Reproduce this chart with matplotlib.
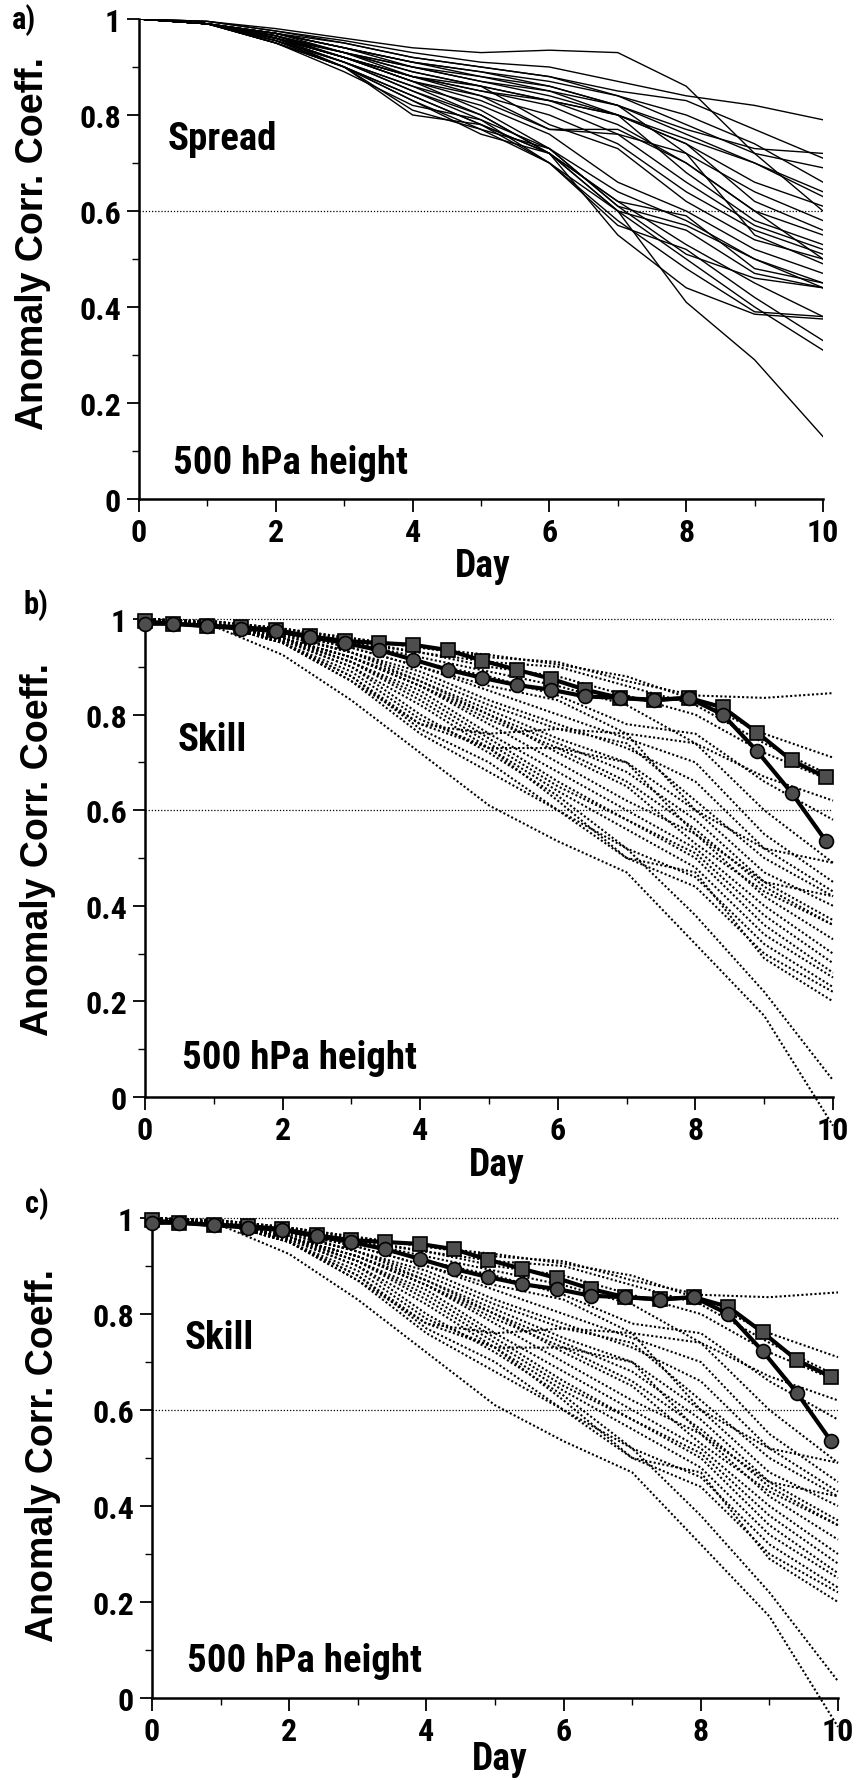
import matplotlib
matplotlib.use("Agg")
import matplotlib.pyplot as plt
from matplotlib.ticker import MultipleLocator, FuncFormatter

# -----------------------------
# DATA
# -----------------------------
days = [0, 1, 2, 3, 4, 5, 6, 7, 8, 9, 10]

# panel a: spread of the ensemble members (solid thin lines)
spread_members = [
    [1, .995, .98, .96, .94, .93, .935, .93, .86, .72, .60],
    [1, .995, .975, .955, .93, .91, .90, .87, .84, .82, .79],
    [1, .995, .975, .95, .92, .90, .88, .85, .83, .77, .71],
    [1, .99, .97, .94, .91, .89, .87, .84, .78, .72, .69],
    [1, .99, .97, .95, .92, .90, .88, .84, .80, .74, .66],
    [1, .99, .97, .94, .91, .88, .86, .82, .76, .70, .63],
    [1, .99, .97, .94, .90, .87, .85, .80, .74, .66, .61],
    [1, .99, .97, .93, .90, .88, .85, .82, .72, .64, .58],
    [1, .99, .965, .93, .89, .86, .83, .78, .70, .60, .55],
    [1, .99, .965, .93, .89, .86, .83, .80, .68, .58, .53],
    [1, .99, .96, .92, .88, .85, .82, .76, .66, .57, .52],
    [1, .99, .96, .92, .87, .84, .80, .74, .64, .56, .51],
    [1, .99, .96, .93, .88, .86, .78, .73, .62, .54, .50],
    [1, .99, .965, .92, .88, .84, .77, .77, .70, .60, .50],
    [1, .99, .96, .92, .87, .83, .77, .76, .72, .55, .49],
    [1, .99, .96, .91, .86, .82, .76, .66, .60, .52, .47],
    [1, .99, .96, .92, .87, .81, .73, .64, .58, .50, .45],
    [1, .99, .96, .91, .86, .80, .72, .62, .59, .48, .45],
    [1, .99, .955, .91, .85, .79, .73, .61, .57, .50, .44],
    [1, .99, .955, .90, .84, .78, .72, .60, .56, .47, .44],
    [1, .99, .96, .90, .81, .77, .73, .61, .51, .46, .44],
    [1, .99, .95, .90, .80, .78, .72, .62, .53, .45, .38],
    [1, .99, .95, .89, .82, .79, .70, .58, .48, .39, .38],
    [1, .99, .955, .91, .85, .80, .72, .55, .44, .385, .375],
    [1, .99, .95, .90, .84, .78, .70, .57, .52, .42, .33],
    [1, .99, .955, .90, .83, .77, .70, .60, .50, .40, .31],
    [1, .99, .95, .90, .83, .76, .72, .60, .41, .29, .13],
    [1, .99, .965, .93, .90, .87, .84, .80, .75, .70, .64],
    [1, .99, .97, .94, .91, .89, .86, .82, .77, .73, .72],
    [1, .99, .965, .92, .88, .85, .83, .80, .74, .62, .56],
]

# panels b/c: skill of the ensemble members (dotted lines)
skill_members = [
    [1, .995, .98, .96, .94, .92, .91, .87, .84, .835, .845],
    [1, .995, .98, .96, .94, .925, .905, .88, .83, .76, .71],
    [1, .995, .98, .955, .93, .91, .90, .86, .82, .74, .67],
    [1, .99, .975, .95, .93, .90, .88, .84, .80, .72, .66],
    [1, .99, .975, .95, .92, .89, .86, .82, .74, .67, .62],
    [1, .99, .97, .95, .91, .88, .84, .78, .76, .66, .58],
    [1, .99, .97, .94, .90, .86, .83, .76, .74, .60, .49],
    [1, .99, .97, .94, .90, .85, .80, .75, .70, .55, .45],
    [1, .99, .97, .93, .89, .83, .78, .73, .66, .52, .43],
    [1, .99, .965, .93, .88, .82, .77, .74, .62, .50, .42],
    [1, .99, .965, .93, .87, .81, .75, .70, .60, .47, .40],
    [1, .99, .96, .92, .87, .80, .74, .68, .58, .45, .37],
    [1, .99, .96, .92, .86, .79, .73, .66, .56, .44, .36],
    [1, .99, .96, .92, .86, .78, .70, .62, .55, .42, .33],
    [1, .99, .96, .91, .85, .76, .68, .60, .52, .40, .30],
    [1, .99, .96, .91, .84, .75, .66, .58, .51, .38, .28],
    [1, .99, .955, .91, .83, .74, .65, .58, .50, .36, .26],
    [1, .99, .955, .90, .82, .73, .64, .56, .48, .34, .25],
    [1, .99, .955, .90, .80, .72, .63, .52, .46, .32, .23],
    [1, .99, .95, .89, .79, .73, .62, .50, .44, .30, .22],
    [1, .99, .95, .88, .77, .70, .60, .50, .47, .29, .20],
    [1, .99, .95, .88, .78, .73, .73, .70, .55, .45, .42],
    [1, .99, .95, .87, .78, .76, .77, .76, .60, .52, .49],
    [1, .99, .95, .87, .76, .68, .60, .52, .38, .22, .035],
    [1, .985, .925, .83, .72, .61, .535, .47, .32, .17, -.06],
    [1, .99, .96, .92, .86, .80, .72, .65, .53, .43, .36],
]

# thick lines with markers (every half day)
mark_days = [0, 0.4, 0.9, 1.4, 1.9, 2.4, 2.9, 3.4, 3.9, 4.4, 4.9,
             5.4, 5.9, 6.4, 6.9, 7.4, 7.9, 8.4, 8.9, 9.4, 9.9]
square_line = [.995, .99, .986, .983, .977, .964, .954, .95, .946, .935, .913,
               .894, .875, .852, .835, .831, .835, .815, .762, .704, .669]
circle_line = [.99, .99, .985, .98, .975, .962, .95, .935, .915, .894, .877,
               .862, .852, .838, .835, .83, .835, .80, .723, .636, .535]

ref_level = 0.6
ytick_vals = [0, 0.2, 0.4, 0.6, 0.8, 1]
xtick_vals = [0, 2, 4, 6, 8, 10]

# -----------------------------
# FIGURE
# -----------------------------
NARROW = ["Roboto Condensed", "DejaVu Sans"]
WIDE = ["Liberation Sans", "DejaVu Sans"]

W, H = 859, 1781
fig = plt.figure(figsize=(W / 100, H / 100), dpi=100)


def px_axes(x0, x1, y_top, y_bot):
    return fig.add_axes([x0 / W, 1 - y_bot / H, (x1 - x0) / W, (y_bot - y_top) / H])


def fmt(v, pos):
    if abs(v) < 1e-9:
        return "0"
    if abs(v - 1) < 1e-9:
        return "1"
    return f"{v:.1f}"


def style_axes(ax):
    ax.set_xlim(0, 10)
    ax.set_ylim(0, 1)
    for s in ("top", "right"):
        ax.spines[s].set_visible(False)
    for s in ("left", "bottom"):
        ax.spines[s].set_linewidth(1.8)
    ax.set_xticks(xtick_vals)
    ax.set_yticks(ytick_vals)
    ax.xaxis.set_minor_locator(MultipleLocator(1))
    ax.yaxis.set_minor_locator(MultipleLocator(0.1))
    ax.yaxis.set_major_formatter(FuncFormatter(fmt))
    ax.tick_params(which="major", direction="out", length=9, width=1.3, pad=4)
    ax.tick_params(which="minor", direction="out", length=5, width=1.0)
    for lab in ax.get_xticklabels() + ax.get_yticklabels():
        lab.set_fontfamily(NARROW)
        lab.set_fontweight("bold")
        lab.set_fontsize(23)
    ax.plot([0, 10], [ref_level, ref_level], color="black", lw=0.9,
            linestyle=(0, (1, 1.5)))


def skill_panel(ax):
    style_axes(ax)
    ax.plot([0, 10], [1, 1], color="black", lw=0.9, linestyle=(0, (1, 1.5)),
            clip_on=False)
    for m in skill_members:
        ax.plot(days, m, color="black", lw=1.5, linestyle=(0, (1.0, 1.1)),
                clip_on=False)
    ax.plot(mark_days, square_line, color="black", lw=3, marker="s",
            markersize=10, markerfacecolor="#4d4d4d", markeredgecolor="black",
            markeredgewidth=1.2, clip_on=False, zorder=5)
    ax.plot(mark_days, circle_line, color="black", lw=3, marker="o",
            markersize=10, markerfacecolor="#4d4d4d", markeredgecolor="black",
            markeredgewidth=1.2, clip_on=False, zorder=5)


def panel_text(ax, x, y, s):
    ax.text(x, y, s, fontfamily=NARROW, fontweight="bold", fontsize=28,
            va="center", ha="left")


# panel a
ax_a = px_axes(139, 823, 20, 500)
style_axes(ax_a)
for m in spread_members:
    ax_a.plot(days, m, color="black", lw=1.0)
panel_text(ax_a, 0.42, 0.75, "Spread")
panel_text(ax_a, 0.5, 0.077, "500 hPa height")

# panel b
ax_b = px_axes(145, 833, 620, 1098)
skill_panel(ax_b)
panel_text(ax_b, 0.48, 0.747, "Skill")
panel_text(ax_b, 0.54, 0.082, "500 hPa height")

# panel c
ax_c = px_axes(152, 838, 1219, 1699)
skill_panel(ax_c)
panel_text(ax_c, 0.47, 0.752, "Skill")
panel_text(ax_c, 0.51, 0.079, "500 hPa height")

# labels in figure pixels
for (lx, ly, txt) in [(24, 20, "a)"), (36, 605, "b)"), (37, 1204, "c)")]:
    fig.text(lx / W, 1 - ly / H, txt, fontfamily=NARROW, fontweight="bold",
             fontsize=22, ha="center", va="center")

for (lx, ly) in [(33, 243), (38, 850), (43, 1455)]:
    fig.text(lx / W, 1 - ly / H, "Anomaly Corr. Coeff.", fontfamily=WIDE,
             fontweight="bold", fontsize=27, rotation=90,
             ha="center", va="center")

for (lx, ly) in [(483, 567), (497, 1165), (500, 1760)]:
    fig.text(lx / W, 1 - ly / H, "Day", fontfamily=NARROW, fontweight="bold",
             fontsize=27, ha="center", va="center")

fig.savefig("out.png", dpi=100)
